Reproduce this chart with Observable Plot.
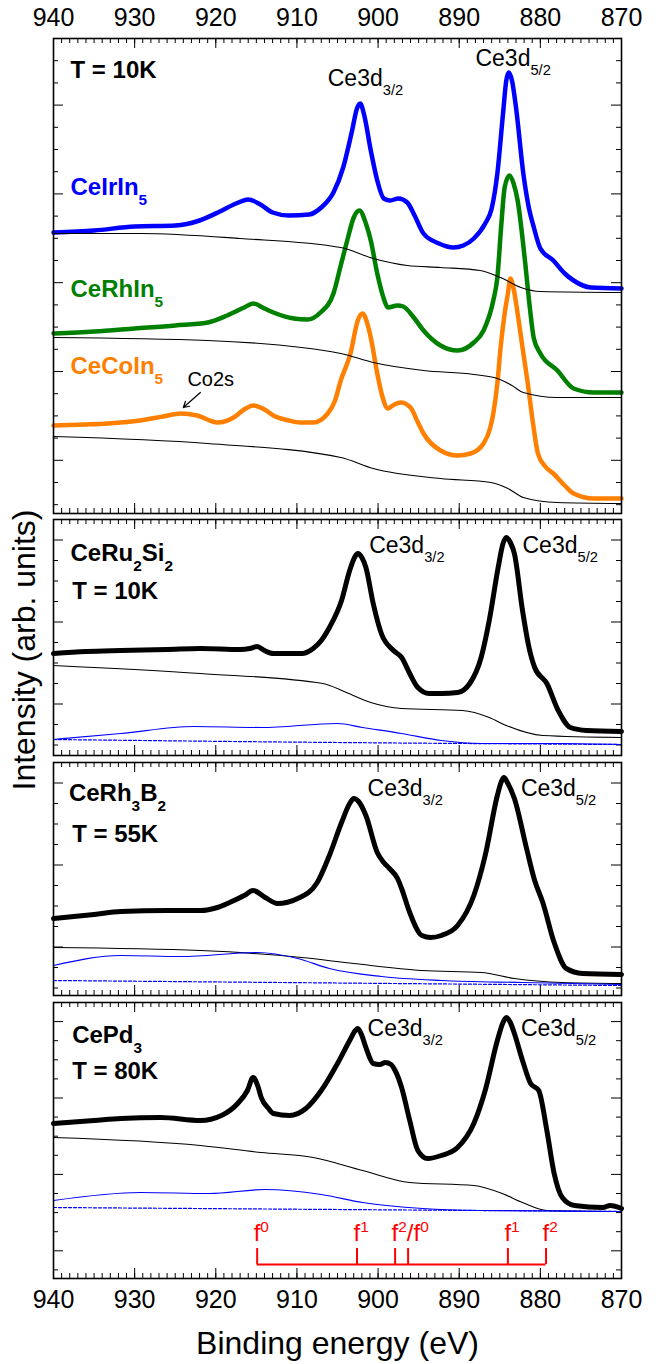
<!DOCTYPE html>
<html>
<head>
<meta charset="utf-8">
<script src="https://cdn.jsdelivr.net/npm/d3@7"></script>
<script src="https://cdn.jsdelivr.net/npm/@observablehq/plot@0.6"></script>
<style>
  html, body { margin: 0; padding: 0; background: #fff; }
  #chart { position: relative; width: 669px; height: 1364px; font-family: "Liberation Sans", Arial, Helvetica, sans-serif; color: #000; }
  #chart svg { position: absolute; left: 0; overflow: visible; }
  .ytitle { position: absolute; left: 24px; top: 650px; transform: translate(-50%, -50%) rotate(-90deg); font-size: 32px; white-space: nowrap; }
</style>
</head>
<body>
<div id="chart"></div>
<script>
// ================= DATA (binding energy eV, intensity arb. units) =================
const energyMajor = [940, 930, 920, 910, 900, 890, 880, 870];
const energyMinor = d3.range(870, 941, 1);

// --- top panel, T = 10K ---
const ceIrIn5 = [[940,281],[935,283],[930,287],[925,288],[922,293],[919.5,302],[917.5,310],[916,314],[914.5,309],[913,301],[911,298],[908.5,299],[907,306],[905.5,321],[904.3,346],[903.2,383],[902.6,405],[902.2,410],[901.7,398],[900.9,363],[900.1,333],[899.3,315],[898.5,313],[897.5,315],[896.4,311],[895.5,298],[894.4,280],[892.5,270],[890.7,266],[889.5,268],[888.2,275],[886.8,290],[886,305],[885.3,340],[884.6,400],[884.2,433],[883.9,441],[883.5,433],[883.0,406],[882.1,340],[881.4,305],[880.8,286],[880.0,265],[878.4,253],[877,240],[875.9,233],[873.8,226],[870,225]];
const ceIrIn5Bg = [[940,280],[929.3,280],[917,275],[904.6,266],[900.6,255],[896.4,248],[892.3,246],[887.4,243],[884.9,236],[882.4,226],[880,222],[870,221]];

const ceRhIn5 = [[940,180],[935,182],[930,185],[925,188],[921,191],[918.6,198],[916.5,206],[915.4,210],[914,205],[912.9,201],[910.4,195],[908.7,194],[907.1,201],[905.5,220],[904.6,248],[903.8,273],[903,296],[902.3,303],[901.5,290],[900.9,273],[900.1,240],[899.3,215],[898.8,206],[897.6,208],[896.9,207],[895.6,196],[894.4,183],[892.3,168],[890.2,163],[888.2,171],[887,183],[885.8,213],[885.3,236],[884.8,290],[884.4,326],[883.8,338],[883.3,330],[882.8,313],[881.9,253],[881.3,206],[880.8,175],[880,160],[877.9,143],[875.9,125],[873.4,121],[870,121]];
const ceRhIn5Bg = [[940,176],[921,173],[904.6,160],[900.6,151],[894.4,143],[888.2,139],[885.3,135],[883.5,128],[882.1,121],[877.9,116],[870,116]];

const ceCoIn5 = [[940,88],[936,89],[933.3,90],[929.3,93],[926.5,97],[924.3,100],[922.3,98],[919.8,91],[917.8,96],[916.5,104],[915.4,108],[914,104],[912.9,98],[911,93],[909.6,91],[908,91],[906.2,100],[905.3,113],[904.6,133],[903.4,160],[902.5,193],[901.9,200],[901.4,192],[900.9,176],[900.1,140],[899.4,115],[898.8,105],[898,109],[897.2,111],[896,106],[895.2,93],[894.4,80],[892.3,63],[890.2,58],[888.6,60],[887,70],[886.2,85],[885.8,100],[885.3,130],[884.9,166],[884.4,200],[884,220],[883.7,235],[883.3,225],[882.8,200],[882.2,166],[881.6,133],[880.9,90],[880.3,60],[879.4,47],[878.4,40],[877,28],[875.9,20],[873.4,15],[870,15]];
const ceCoIn5Bg = [[940,77],[921,70],[904.6,56],[900.6,45],[892.3,35],[886.1,31],[884,25],[882.1,16],[877.9,11],[870,10]];

// --- CeRu2Si2, T = 10K ---
const ceRu2Si2 = [[940,102],[936,104],[931.7,105],[926,106],[921.9,107],[917,106],[915.8,107],[914.9,109],[914,105],[912.9,102],[909.4,102],[908,107],[907,115],[906,128],[904.5,155],[903.5,185],[902.9,198],[902.5,202],[902,198],[901.5,188],[900.6,152],[899.6,122],[898.1,105],[897.1,98],[896.1,82],[895.1,68],[893.7,62],[892.2,62],[890.2,63],[888.7,72],[887.3,98],[886.3,135],[885.2,188],[884.6,212],[884.2,218],[883.7,213],[883.2,202],[882.2,145],[881.4,108],[880.7,88],[879.2,72],[877.8,45],[876.3,28],[874.3,25],[870,24]];
const ceRu2Si2Bg = [[940,90],[921.9,82],[906.8,72],[903.9,63],[900.9,53],[897.1,47],[889.6,45],[886.3,38],[884.2,30],[879.7,20],[870,18]];
const ceRu2Si2Fit = [[940,16],[931.7,22],[922.7,29],[914.4,28],[905,32],[901.9,28],[897.1,22],[892.2,15],[887.3,12],[877.3,12],[870,11]];
const ceRu2Si2Base = [[940,16],[905,13],[870,11]];

// --- CeRh3B2, T = 55K ---
const ceRh3B2 = [[940,77],[935,81],[931.7,84],[926,85],[921.9,85],[919.8,88],[918.3,93],[916.5,100],[915.4,105],[913.9,98],[912.4,92],[909.9,97],[907.5,113],[906,140],[904.5,173],[903.5,192],[903,197],[902.4,194],[901.5,180],[900.1,143],[899.3,133],[898.6,127],[897.6,117],[897.1,107],[896.1,83],[894.6,60],[893.5,58],[892.2,60],[890.2,70],[888.2,100],[886.8,140],[885.3,200],[884.8,214],[884.5,218],[884,212],[883.2,197],[881.7,147],[880.7,115],[879.7,93],[878.3,53],[876.8,27],[874.8,22],[870,21]];
const ceRh3B2Bg = [[940,48],[921.9,45],[909.4,38],[903,32],[894.6,25],[887.3,23],[883.2,17],[877.3,13],[870,12]];
const ceRh3B2Fit = [[940,30],[931.7,40],[924.3,39],[914.9,43],[909.9,37],[906,27],[899.6,19],[892.2,15],[882.2,13],[870,11]];
const ceRh3B2Base = [[940,15],[905,12.5],[870,10]];

// --- CePd3, T = 80K ---
const cePd3 = [[940,155],[935,158],[931.7,160],[926.8,161],[921.9,158],[919.3,163],[917.3,175],[916.1,188],[915.4,201],[914.8,192],[914.4,181],[913.5,170],[912.9,165],[910.9,163],[908.9,170],[907,188],[905,215],[903.5,238],[902.8,248],[902.5,250],[902,243],[901.5,231],[900.6,215],[899.8,214],[899.1,216],[898.4,214],[897.9,208],[897.1,191],[896.1,158],[895.1,128],[893.9,120],[892.2,123],[890.2,131],[888.2,155],[886.8,188],[885.3,238],[884.6,256],[884.2,261],[883.7,256],[883.2,245],[882.2,218],[881.2,195],[880.2,188],[879.2,148],[878.3,105],[877.3,81],[875.8,73],[872.3,71],[871.4,73],[870,70]];
const cePd3Bg = [[940,141],[921.9,133],[914.4,126],[908,121],[901.9,108],[896.1,96],[888.2,93],[884.7,85],[882.2,76],[879.2,68],[870,67]];
const cePd3Fit = [[940,78],[929.3,86],[920.8,85],[913.9,89],[907,84],[901.9,76],[894.5,70],[887.3,68],[870,67]];
const cePd3Base = [[940,71],[905,69],[870,67]];

// --- f-count markers ---
const fEnergies = [914.9, 902.6, 897.9, 896.3, 884.0, 879.3];
const fLabelEnergies = [914.9, 902.6, 897.9, 884.0, 879.3];
const fLabelTexts = ["f^{0}", "f^{1}", "f^{2}/f^{0}", "f^{1}", "f^{2}"];
const fBracket = {low: 14, high: 30, label: 38};

// ================= LAYOUT =================
const FONT = '"Liberation Sans", Arial, Helvetica, sans-serif';
const W = 669, ML = 53, MR = 48, PW = W - ML - MR;
const BLUE = "#0000ff", GREEN = "#008000", ORANGE = "#ff8000", RED = "#ff0000";
const chart = document.getElementById("chart");

const ex = d => d[0], iy = d => d[1];

function dataLine(data, color) {
  return Plot.line(data, {x: ex, y: iy, stroke: color, strokeWidth: color === "black" ? 5 : 4.5, curve: "monotone-x", strokeLinejoin: "round", strokeLinecap: "round"});
}
function thinLine(data, color, dash) {
  return Plot.line(data, {x: ex, y: iy, stroke: color, strokeWidth: color === "black" ? 1.1 : 1.2, curve: "monotone-x", strokeDasharray: dash});
}
function labels(items, opts) {
  return Plot.text(items, {x: d => d.e, y: d => d.i, text: d => d.t, textAnchor: "start", lineAnchor: "bottom", fontFamily: FONT, ...opts});
}

function richify(svg) {
  svg.querySelectorAll("text").forEach(t => {
    const s = t.textContent;
    if (!/[_^]\{/.test(s)) return;
    const fs = parseFloat(getComputedStyle(t).fontSize);
    t.textContent = "";
    const re = /([_^])\{([^}]*)\}|([^_^]+)/g;
    let m, shift = 0;
    while ((m = re.exec(s))) {
      const ts = document.createElementNS("http://www.w3.org/2000/svg", "tspan");
      if (m[1]) {
        const target = m[1] === "_" ? fs * 0.42 : -fs * 0.36;
        ts.setAttribute("dy", target - shift); shift = target;
        ts.setAttribute("font-size", (fs * 0.64).toFixed(1));
        ts.textContent = m[2];
      } else {
        ts.setAttribute("dy", -shift); shift = 0;
        ts.textContent = m[3];
      }
      t.appendChild(ts);
    }
  });
}

function panel({top, bottom, padTop = 0, padBottom = 0, yStep, majorPhase, hasAxis = false, marks}) {
  const h = bottom - top;
  const yMinor = [], yMajor = [];
  for (let k = 1; h - k * yStep > 1; k++) ((k % 4 === majorPhase) ? yMajor : yMinor).push(h - k * yStep);
  const svg = Plot.plot({
    width: W, height: h + padTop + padBottom,
    marginLeft: ML, marginRight: MR, marginTop: padTop, marginBottom: padBottom,
    x: hasAxis ? {domain: [940, 870]} : {domain: [940, 870], axis: null},
    y: {domain: [0, h], axis: null},
    style: {background: "transparent", fontFamily: FONT, overflow: "visible", color: "black"},
    marks: [
      Plot.tickX(energyMinor, {x: d => d, insetBottom: h - 5, strokeWidth: 1}),
      Plot.tickX(energyMinor, {x: d => d, insetTop: h - 5, strokeWidth: 1}),
      Plot.tickX(energyMajor, {x: d => d, insetBottom: h - 10, strokeWidth: 1}),
      Plot.tickX(energyMajor, {x: d => d, insetTop: h - 10, strokeWidth: 1}),
      Plot.tickY(yMinor, {y: d => d, insetRight: PW - 5, strokeWidth: 1}),
      Plot.tickY(yMinor, {y: d => d, insetLeft: PW - 5, strokeWidth: 1}),
      Plot.tickY(yMajor, {y: d => d, insetRight: PW - 10, strokeWidth: 1}),
      Plot.tickY(yMajor, {y: d => d, insetLeft: PW - 10, strokeWidth: 1}),
      ...marks,
      Plot.frame({strokeWidth: 1.6})
    ]
  });
  svg.style.top = (top - padTop) + "px";
  chart.appendChild(svg);
  richify(svg);
}

// ---- Panel 1 ----
panel({
  top: 38, bottom: 513, padTop: 38, yStep: 22.2, majorPhase: 3, hasAxis: true,
  marks: [
    Plot.axisX(energyMajor, {anchor: "top", tickSize: 0, tickPadding: 13, fontSize: 25, label: null, fontFamily: FONT}),
    dataLine(ceIrIn5, BLUE), dataLine(ceRhIn5, GREEN), dataLine(ceCoIn5, ORANGE),
    thinLine(ceIrIn5Bg, "black"), thinLine(ceRhIn5Bg, "black"), thinLine(ceCoIn5Bg, "black"),
    labels([{e: 937.9, i: 436, t: "T = 10K"}], {fontSize: 24, fontWeight: "bold", fill: "black"}),
    labels([{e: 937.9, i: 319, t: "CeIrIn_{5}"}], {fontSize: 24, fontWeight: "bold", fill: BLUE}),
    labels([{e: 937.9, i: 217, t: "CeRhIn_{5}"}], {fontSize: 24, fontWeight: "bold", fill: GREEN}),
    labels([{e: 937.9, i: 140, t: "CeCoIn_{5}"}], {fontSize: 24, fontWeight: "bold", fill: ORANGE}),
    labels([{e: 923.5, i: 128, t: "Co2s"}], {fontSize: 20, fill: "black"}),
    Plot.arrow([{x1: 921.9, y1: 121, x2: 924.0, y2: 106}], {x1: "x1", y1: "y1", x2: "x2", y2: "y2", stroke: "black", strokeWidth: 1.2, headLength: 8}),
    labels([{e: 906.2, i: 428, t: "Ce3d_{3/2}"}, {e: 888.0, i: 448, t: "Ce3d_{5/2}"}], {fontSize: 23, fill: "black"})
  ]
});

// ---- Panel 2 ----
panel({
  top: 519, bottom: 755, yStep: 20.5, majorPhase: 1,
  marks: [
    dataLine(ceRu2Si2, "black"),
    thinLine(ceRu2Si2Bg, "black"), thinLine(ceRu2Si2Fit, BLUE), thinLine(ceRu2Si2Base, BLUE, "3,2"),
    labels([{e: 937.9, i: 195, t: "CeRu_{2}Si_{2}"}, {e: 937.7, i: 157, t: "T = 10K"}], {fontSize: 24, fontWeight: "bold", fill: "black"}),
    labels([{e: 901.1, i: 203, t: "Ce3d_{3/2}"}, {e: 882.2, i: 203, t: "Ce3d_{5/2}"}], {fontSize: 23, fill: "black"})
  ]
});

// ---- Panel 3 ----
panel({
  top: 762, bottom: 995, yStep: 20.5, majorPhase: 1,
  marks: [
    dataLine(ceRh3B2, "black"),
    thinLine(ceRh3B2Bg, "black"), thinLine(ceRh3B2Fit, BLUE), thinLine(ceRh3B2Base, BLUE, "3,2"),
    labels([{e: 938.1, i: 195, t: "CeRh_{3}B_{2}"}, {e: 937.7, i: 154, t: "T = 55K"}], {fontSize: 24, fontWeight: "bold", fill: "black"}),
    labels([{e: 901.3, i: 200, t: "Ce3d_{3/2}"}, {e: 882.4, i: 200, t: "Ce3d_{5/2}"}], {fontSize: 23, fill: "black"})
  ]
});

// ---- Panel 4 ----
panel({
  top: 1002, bottom: 1278, padBottom: 86, yStep: 19.1, majorPhase: 1, hasAxis: true,
  marks: [
    Plot.axisX(energyMajor, {anchor: "bottom", tickSize: 0, tickPadding: 12, fontSize: 25, label: null, fontFamily: FONT}),
    Plot.text(["Binding energy (eV)"], {frameAnchor: "bottom", text: d => d, dy: 75, lineAnchor: "bottom", fontSize: 32, fontFamily: FONT, fill: "black"}),
    dataLine(cePd3, "black"),
    thinLine(cePd3Bg, "black"), thinLine(cePd3Fit, BLUE), thinLine(cePd3Base, BLUE, "3,2"),
    labels([{e: 937.7, i: 236, t: "CePd_{3}"}, {e: 937.7, i: 200, t: "T = 80K"}], {fontSize: 24, fontWeight: "bold", fill: "black"}),
    labels([{e: 901.3, i: 243, t: "Ce3d_{3/2}"}, {e: 882.4, i: 243, t: "Ce3d_{5/2}"}], {fontSize: 23, fill: "black"}),
    Plot.ruleX(fEnergies, {x: d => d, y1: fBracket.low, y2: fBracket.high, stroke: RED, strokeWidth: 2}),
    Plot.ruleY([fBracket.low], {x1: d3.max(fEnergies), x2: d3.min(fEnergies), y: d => d, stroke: RED, strokeWidth: 2}),
    Plot.text(fLabelEnergies, {x: d => d, y: fBracket.label, text: (d, i) => fLabelTexts[i], textAnchor: "start", lineAnchor: "bottom", dx: -3.5, fontSize: 24, fill: RED, fontFamily: FONT})
  ]
});

// y title
const yt = document.createElement("div");
yt.className = "ytitle";
yt.textContent = "Intensity (arb. units)";
chart.appendChild(yt);
</script>
</body>
</html>
